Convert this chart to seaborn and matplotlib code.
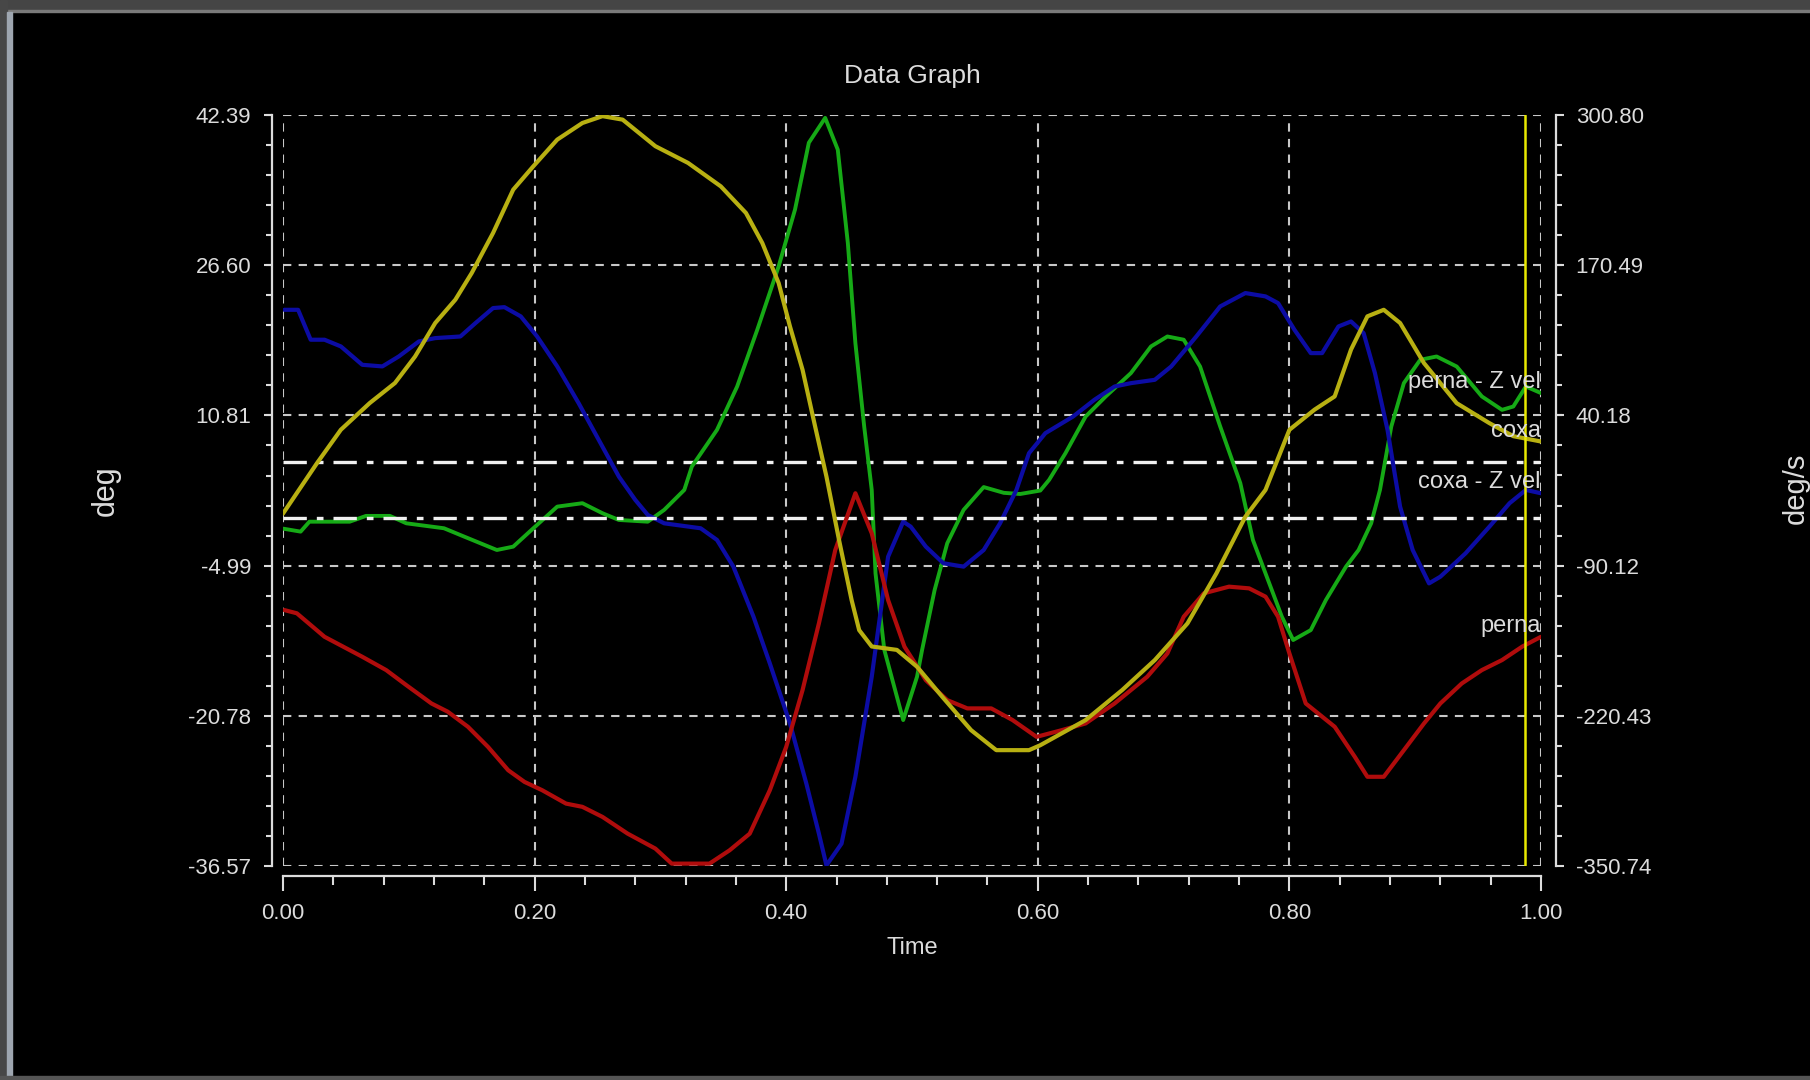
import matplotlib
matplotlib.use("Agg")
import matplotlib.pyplot as plt
from matplotlib.ticker import AutoMinorLocator
from matplotlib.patches import Rectangle
import seaborn as sns

# coxa (deg, left axis) - yellow
coxa_t = [0.000, 0.027, 0.046, 0.069, 0.089, 0.105, 0.121, 0.137, 0.150, 0.167, 0.183, 0.199,
          0.218, 0.238, 0.254, 0.270, 0.296, 0.322, 0.348, 0.368, 0.381, 0.394, 0.403, 0.413,
          0.423, 0.432, 0.442, 0.452, 0.458, 0.468, 0.488, 0.504, 0.524, 0.547, 0.567, 0.593,
          0.602, 0.638, 0.667, 0.693, 0.719, 0.742, 0.765, 0.781, 0.800, 0.820, 0.836, 0.849,
          0.862, 0.875, 0.888, 0.907, 0.933, 0.959, 0.978, 1.000]
coxa_deg = [0.48, 5.78, 9.30, 12.11, 14.21, 17.00, 20.52, 22.97, 25.77, 29.99, 34.54, 37.00,
            39.80, 41.55, 42.27, 41.90, 39.11, 37.35, 34.89, 32.09, 28.93, 24.72, 20.16, 15.60,
            9.64, 4.37, -2.29, -8.61, -11.77, -13.49, -13.85, -15.62, -18.77, -22.29, -24.39, -24.39,
            -23.87, -21.23, -18.08, -14.92, -11.06, -5.80, 0.16, 2.97, 9.29, 11.41, 12.80, 17.73,
            21.22, 21.91, 20.52, 16.30, 12.09, 9.99, 8.62, 8.06]

# perna (deg, left axis) - red
perna_t = [0.001, 0.011, 0.033, 0.063, 0.082, 0.098, 0.118, 0.131, 0.147, 0.163, 0.179, 0.192,
           0.206, 0.225, 0.238, 0.254, 0.274, 0.296, 0.309, 0.339, 0.355, 0.371, 0.387, 0.400,
           0.413, 0.426, 0.439, 0.455, 0.468, 0.481, 0.494, 0.511, 0.528, 0.544, 0.563, 0.580,
           0.599, 0.619, 0.638, 0.661, 0.687, 0.703, 0.716, 0.732, 0.752, 0.768, 0.781, 0.791,
           0.800, 0.813, 0.836, 0.852, 0.862, 0.875, 0.891, 0.907, 0.920, 0.937, 0.953, 0.969,
           0.985, 1.000]
perna_deg = [-9.66, -10.00, -12.47, -14.57, -15.97, -17.55, -19.48, -20.35, -21.93, -24.05, -26.50, -27.73,
             -28.60, -30.01, -30.35, -31.41, -33.17, -34.74, -36.32, -36.32, -34.92, -33.17, -28.60, -24.05,
             -18.08, -11.06, -3.35, 2.62, -1.59, -8.61, -13.51, -17.03, -19.13, -20.00, -20.00, -21.23,
             -22.99, -22.29, -21.58, -19.48, -16.67, -14.22, -10.36, -7.90, -7.20, -7.38, -8.25, -10.36,
             -14.22, -19.48, -21.93, -25.09, -27.19, -27.19, -24.39, -21.58, -19.48, -17.38, -15.97, -14.92,
             -13.51, -12.47]

# perna - Z vel (deg/s, right axis) - green
perna_vel_t = [0.000, 0.014, 0.021, 0.053, 0.066, 0.085, 0.098, 0.128, 0.144, 0.170, 0.183, 0.199,
               0.218, 0.238, 0.254, 0.267, 0.290, 0.303, 0.319, 0.325, 0.345, 0.361, 0.377, 0.394,
               0.407, 0.418, 0.431, 0.441, 0.449, 0.455, 0.462, 0.468, 0.471, 0.478, 0.493, 0.504,
               0.508, 0.518, 0.528, 0.541, 0.557, 0.573, 0.586, 0.602, 0.609, 0.622, 0.638, 0.654,
               0.674, 0.690, 0.703, 0.716, 0.729, 0.745, 0.761, 0.771, 0.781, 0.794, 0.803, 0.817,
               0.829, 0.845, 0.855, 0.865, 0.872, 0.881, 0.891, 0.904, 0.917, 0.933, 0.953, 0.969,
               0.978, 0.988, 1.000]
perna_vel = [-58.05, -60.65, -52.03, -52.03, -47.02, -47.02, -53.43, -57.74, -64.96, -76.59, -73.68, -57.74,
             -38.96, -35.99, -44.71, -50.53, -52.03, -41.80, -24.47, -4.22, 27.65, 65.24, 114.46, 169.49,
             218.71, 276.74, 298.29, 270.73, 189.74, 102.93, 30.56, -24.47, -96.84, -163.30, -224.14, -186.55,
             -163.40, -111.27, -70.78, -41.81, -22.00, -27.00, -28.00, -25.00, -15.75, 7.40, 39.18, 56.62,
             76.87, 100.03, 108.65, 105.84, 82.58, 30.56, -18.66, -67.87, -96.84, -134.43, -154.68, -146.06,
             -120.00, -91.03, -76.59, -53.44, -24.47, 30.56, 68.21, 88.40, 91.30, 82.58, 56.62, 44.99,
             47.90, 65.24, 59.53]

# coxa - Z vel (deg/s, right axis) - blue
coxa_vel_t = [0.001, 0.012, 0.022, 0.033, 0.046, 0.063, 0.079, 0.092, 0.108, 0.121, 0.141, 0.153,
              0.167, 0.176, 0.189, 0.202, 0.218, 0.235, 0.251, 0.267, 0.280, 0.290, 0.303, 0.332,
              0.345, 0.358, 0.374, 0.387, 0.403, 0.416, 0.426, 0.432, 0.444, 0.455, 0.468, 0.481,
              0.493, 0.499, 0.511, 0.525, 0.541, 0.557, 0.570, 0.583, 0.593, 0.606, 0.628, 0.645,
              0.661, 0.674, 0.693, 0.706, 0.726, 0.745, 0.765, 0.781, 0.791, 0.804, 0.817, 0.826,
              0.839, 0.849, 0.859, 0.868, 0.878, 0.888, 0.898, 0.911, 0.920, 0.940, 0.959, 0.975,
              0.988, 1.000]
coxa_vel = [131.80, 131.80, 105.84, 105.84, 100.03, 84.09, 82.68, 91.30, 104.34, 107.24, 108.65, 120.27,
            133.30, 134.10, 126.09, 108.65, 82.68, 50.81, 18.93, -12.94, -33.09, -46.22, -53.44, -57.74,
            -67.87, -91.03, -134.43, -175.03, -227.05, -279.17, -322.67, -350.14, -331.30, -273.36, -186.55, -82.41,
            -52.03, -56.34, -73.68, -88.12, -91.03, -76.59, -53.44, -24.47, 7.40, 24.75, 39.18, 53.72,
            65.24, 68.15, 71.06, 82.58, 108.65, 134.71, 146.33, 143.43, 137.61, 114.46, 94.21, 94.21,
            117.37, 121.68, 111.55, 76.87, 27.65, -38.99, -76.59, -105.55, -99.75, -79.50, -56.35, -36.00,
            -24.47, -27.38]

deg_ticks = [-36.57, -20.78, -4.99, 10.81, 26.60, 42.39]
vel_ticks = [-350.74, -220.43, -90.12, 40.18, 170.49, 300.80]
time_ticks = [0.0, 0.2, 0.4, 0.6, 0.8, 1.0]
cursor_t = 0.9875

fg = "#dcdcdc"
sns.set_theme(style="ticks", rc={
    "figure.facecolor": "black", "axes.facecolor": "black",
    "text.color": fg, "axes.labelcolor": fg,
    "xtick.color": fg, "ytick.color": fg,
})
plt.rcParams["font.family"] = ["Liberation Sans", "DejaVu Sans"]

fig = plt.figure(figsize=(18.1, 10.8), dpi=100, facecolor="black")

# window frame of the original app
fig.patches.append(Rectangle((0, 1 - 10 / 1080), 1, 10 / 1080, transform=fig.transFigure, color="#454545"))
fig.patches.append(Rectangle((0, 1 - 12 / 1080), 1, 2 / 1080, transform=fig.transFigure, color="#7a7a7a"))
fig.patches.append(Rectangle((0, 0), 7 / 1810, 1, transform=fig.transFigure, color="#474747"))
fig.patches.append(Rectangle((7 / 1810, 0), 5 / 1810, 1 - 12 / 1080, transform=fig.transFigure, color="#9ea6b0"))
fig.patches.append(Rectangle((0, 0), 1, 4 / 1080, transform=fig.transFigure, color="#555555"))

ax = fig.add_axes([0.15635, 0.19815, 0.69503, 0.69537])
ax2 = ax.twinx()
ax.set_zorder(2)
ax2.set_zorder(1)
ax.patch.set_visible(False)
ax2.patch.set_visible(True)
ax2.set_facecolor("black")

ax.set_xlim(0, 1)
ax.set_ylim(deg_ticks[0], deg_ticks[-1])
ax2.set_ylim(vel_ticks[0], vel_ticks[-1])
ax.set_xticks(time_ticks)
ax.set_xticklabels([f"{v:.2f}" for v in time_ticks])
ax.set_yticks(deg_ticks)
ax.set_yticklabels([f"{v:.2f}" for v in deg_ticks])
ax2.set_yticks(vel_ticks)
ax2.set_yticklabels([f"{v:.2f}" for v in vel_ticks])
for a in (ax.xaxis, ax.yaxis, ax2.yaxis):
    a.set_minor_locator(AutoMinorLocator(5))

# grid lives on the lower axes so every curve sits on top of it
ax2.xaxis.set_visible(True)
ax2.tick_params(axis="x", which="both", bottom=False, top=False, labelbottom=False, labeltop=False)
ax2.grid(True, which="major", axis="both", color="#c8c8c8", linewidth=1.5, linestyle=(0, (4, 3.5)))
ax.grid(False)

for s in ("top", "right"):
    ax.spines[s].set_visible(False)
for s in ("top", "left", "bottom"):
    ax2.spines[s].set_visible(False)
ax.spines["left"].set_position(("outward", 8))
ax.spines["bottom"].set_position(("outward", 7))
ax2.spines["right"].set_position(("outward", 11))
for sp in (ax.spines["left"], ax.spines["bottom"], ax2.spines["right"]):
    sp.set_color(fg)
    sp.set_linewidth(1.6)

ax.tick_params(axis="y", which="major", direction="out", length=6, width=1.5, color=fg,
               labelcolor=fg, labelsize=16, pad=9)
ax.tick_params(axis="y", which="minor", direction="out", length=4, width=1.5, color=fg)
ax.tick_params(axis="x", which="major", direction="out", length=11, width=1.5, color=fg,
               labelcolor=fg, labelsize=16, pad=9)
ax.tick_params(axis="x", which="minor", direction="out", length=6.5, width=1.5, color=fg)
ax2.tick_params(axis="y", which="major", direction="out", length=6, width=1.5, color=fg,
                labelcolor=fg, labelsize=16, pad=8)
ax2.tick_params(axis="y", which="minor", direction="out", length=4, width=1.5, color=fg)

# zero lines of both scales
ax2.axhline(0, color="#f0f0f0", linewidth=2.4, dashes=(7, 3, 2, 3))
ax.axhline(0, color="#f0f0f0", linewidth=2.4, dashes=(7, 3, 2, 3))

sns.lineplot(x=perna_vel_t, y=perna_vel, ax=ax2, color="#16aa16", linewidth=2.8, estimator=None, sort=False)
sns.lineplot(x=coxa_vel_t, y=coxa_vel, ax=ax2, color="#0c0ca4", linewidth=3.0, estimator=None, sort=False)
sns.lineplot(x=perna_t, y=perna_deg, ax=ax, color="#b00c0c", linewidth=3.0, estimator=None, sort=False)
sns.lineplot(x=coxa_t, y=coxa_deg, ax=ax, color="#b8b012", linewidth=3.0, estimator=None, sort=False)

ax.axvline(cursor_t, color="#e8e800", linewidth=1.8)

for a, t, y, name in ((ax2, perna_vel_t, perna_vel, "perna - Z vel"), (ax, coxa_t, coxa_deg, "coxa"),
                      (ax2, coxa_vel_t, coxa_vel, "coxa - Z vel"), (ax, perna_t, perna_deg, "perna")):
    ax.annotate(name, xy=(1.0, y[-1]), xycoords=("data", a.transData), xytext=(0, 0),
                textcoords="offset points", ha="right", va="bottom", fontsize=17, color=fg)

ax.set_title("Data Graph", y=1.041, va="center", fontsize=19, color=fg)
ax.set_xlabel("Time", fontsize=17, color=fg, va="center")
ax.xaxis.set_label_coords(0.5, -0.109)
ax.set_ylabel("deg", fontsize=22, color=fg, va="center")
ax.yaxis.set_label_coords(-0.1407, 0.5)
ax2.set_ylabel("deg/s", fontsize=21, color=fg, va="center", rotation=90)
ax2.yaxis.set_label_coords(1.2027, 0.503)

fig.savefig("out.png", dpi=100, facecolor="black")
